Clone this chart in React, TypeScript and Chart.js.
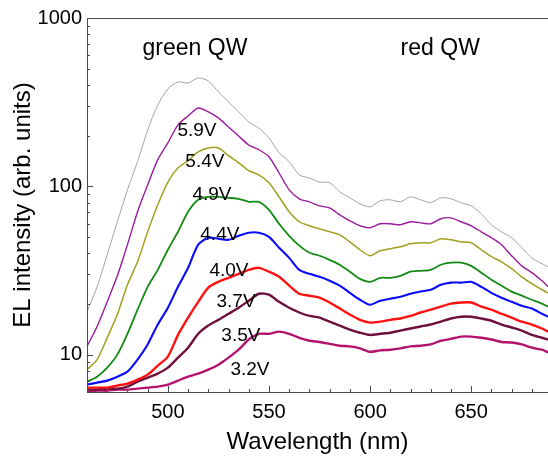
import React, { useEffect, useRef } from "react";
import { Chart, registerables } from "chart.js";
Chart.register(...registerables);

const FONT = "Arial, 'Liberation Sans', sans-serif";

// Wavelength grid (nm)
const wavelengths = [
  460, 465, 470, 475, 480, 485, 490, 495, 500, 505, 510, 515, 520, 525, 530, 535,
  540, 545, 550, 555, 560, 565, 570, 575, 580, 585, 590, 595, 600, 605, 610, 615,
  620, 625, 630, 635, 640, 645, 650, 655, 660, 665, 670, 675, 680, 685, 688,
];

// EL intensity series (arb. units), top to bottom
const seriesTop = [18.0, 25.3, 39.2, 61.6, 95.3, 140, 216, 304, 379, 417, 411, 440, 423, 364, 317, 277, 241, 222, 194, 158, 140, 117, 112, 106, 105, 92.8, 85.5, 78.7, 75.5, 82, 83.2, 80.9, 86.6, 83.2, 80, 85.5, 84.3, 80, 76.6, 68.7, 59.1, 53.7, 49.5, 43.2, 37.6, 34.7, 33.3];
const series59 = [11.2, 14.7, 20.6, 29.4, 45.0, 70.6, 102, 144, 181, 232, 262, 292, 277, 255, 225, 199, 176, 165, 150, 120, 95.3, 84.3, 80.9, 76.6, 74.5, 67.7, 62.4, 58.3, 56.7, 59.9, 59.9, 59.1, 61.6, 60.7, 59.9, 64.2, 65.0, 61.6, 58.3, 53.7, 49.5, 45.0, 38.7, 33.7, 30.7, 27.5, 25.3];
const series54 = [8.15, 9.34, 12.6, 17.3, 26.0, 35.6, 53.7, 77.7, 106, 129, 142, 160, 169, 169, 152, 138, 124, 117, 105, 86.6, 70.6, 61.6, 58.3, 55.9, 53.7, 51.5, 46.8, 42.0, 38.7, 41.4, 42.6, 43.7, 45.6, 46.2, 46.2, 48.8, 48.1, 46.8, 46.2, 42.0, 38.2, 35.6, 32.4, 29.0, 26.4, 24.3, 23.3];
const series49 = [6.91, 7.40, 8.37, 10, 13.3, 18.5, 25.3, 31.9, 42.0, 53.7, 70.6, 83.2, 86.6, 86.6, 85.5, 84.3, 80.9, 80.9, 72.5, 59.9, 50.8, 44.4, 40.3, 38.7, 36.6, 34.2, 31.1, 28.2, 27.1, 28.6, 28.6, 29.4, 31.1, 31.5, 31.9, 34.2, 35.2, 35.2, 33.7, 30.7, 27.9, 25.7, 23.7, 22.4, 21.2, 20.1, 19.3];
const series44 = [6.64, 6.82, 7.01, 7.40, 7.93, 9.34, 11.5, 15.1, 19.0, 25.3, 32.8, 45.0, 49.5, 48.8, 48.1, 50.8, 53.0, 53.0, 50.1, 43.2, 37.6, 31.9, 30.2, 29.0, 27.5, 25.7, 23.3, 21.2, 19.8, 20.9, 21.5, 22.1, 23.0, 23.7, 24.3, 26.0, 26.8, 26.8, 27.1, 25.3, 23.3, 21.8, 20.6, 19.5, 18.8, 17.5, 16.8];
const series40 = [6.37, 6.37, 6.37, 6.55, 6.73, 7.11, 7.61, 8.61, 9.73, 13.1, 16.6, 20.6, 25.0, 27.1, 28.6, 30.2, 31.9, 32.8, 31.1, 29.0, 25.7, 23.0, 22.4, 21.8, 20.4, 18.8, 17.3, 16.1, 15.5, 15.7, 16.1, 16.4, 17.0, 17.8, 18.5, 19.3, 20.1, 20.4, 20.4, 19.3, 18.5, 17.5, 16.6, 15.7, 15.1, 14.3, 13.7];
const series37 = [6.20, 6.20, 6.28, 6.28, 6.46, 6.91, 7.30, 7.72, 8.37, 9.60, 11.0, 13.3, 14.9, 16.1, 17.5, 19.0, 20.9, 23.0, 22.7, 20.6, 19.0, 17.8, 17.0, 16.6, 15.7, 14.9, 14.1, 13.5, 13.1, 13.3, 13.5, 13.9, 14.3, 14.7, 15.1, 15.7, 16.4, 16.8, 16.8, 16.4, 15.9, 15.1, 14.5, 13.9, 13.1, 12.6, 12.3];
const series35 = [6.03, 6.11, 6.11, 6.20, 6.20, 6.28, 6.37, 6.46, 6.64, 7.01, 7.40, 7.72, 8.15, 8.72, 9.60, 10.7, 12.3, 13.3, 13.3, 13.7, 13.3, 12.6, 12.1, 11.9, 11.6, 11.3, 11.2, 10.9, 10.4, 10.6, 10.7, 10.9, 11.2, 11.3, 11.5, 12.1, 12.4, 12.8, 12.8, 12.6, 12.3, 11.9, 11.8, 11.5, 11.0, 10.7, 10.3];

const allSeries = [seriesTop, series59, series54, series49, series44, series40, series37, series35];
const seriesColors = ["#a3a3a3", "#9a1c9e", "#a0a020", "#138a13", "#0a0aff", "#ff1010", "#6e0f3c", "#b3136d"];
const seriesWidths = [1, 1.4, 1.5, 1.8, 2.1, 2.4, 2.4, 2.4];

// Tick labels
const xMajorTicks = [500, 550, 600, 650];
const yMajorTicks = [10, 100, 1000];

// Annotations (text, wavelength, intensity)
const voltageLabels = ["5.9V", "5.4V", "4.9V", "4.4V", "4.0V", "3.7V", "3.5V", "3.2V"];
const voltageLabelX = [514.4, 518.3, 521.8, 525.7, 530.2, 533.7, 536.1, 540.6];
const voltageLabelY = [213, 140, 89, 51.5, 31.5, 20.6, 13.0, 8.15];
const regionLabels = ["green QW", "red QW"];
const regionLabelX = [513.4, 634.7];
const regionLabelY = [655, 655];

const framePlugin = {
  id: "frameTicks",
  afterDraw(chart: any) {
    const { ctx, chartArea, scales } = chart;
    const { left, top, right, bottom } = chartArea;
    const x = scales.x;
    const y = scales.y;
    ctx.save();
    ctx.strokeStyle = "#4a4a4a";
    ctx.lineWidth = 1;
    ctx.beginPath();
    ctx.moveTo(left, top + 0.5);
    ctx.lineTo(right, top + 0.5);
    ctx.moveTo(left + 0.5, top);
    ctx.lineTo(left + 0.5, bottom + 1);
    ctx.moveTo(left, bottom + 0.5);
    ctx.lineTo(right, bottom + 0.5);
    // x ticks (inward)
    for (let v = x.min; v <= x.max; v += 10) {
      const px = Math.round(x.getPixelForValue(v)) + 0.5;
      const len = v % 50 === 0 ? 6 : 3;
      ctx.moveTo(px, bottom);
      ctx.lineTo(px, bottom - len);
    }
    // y ticks (inward), logarithmic
    for (let d = 1; d <= 1000; d *= 10) {
      for (let m = 1; m <= 9; m++) {
        const v = d * m;
        if (v < y.min || v > y.max) continue;
        const py = Math.round(y.getPixelForValue(v)) + 0.5;
        const len = m === 1 ? 6 : 3;
        ctx.moveTo(left, py);
        ctx.lineTo(left + len, py);
      }
    }
    ctx.stroke();

    ctx.fillStyle = "#000";
    ctx.textAlign = "center";
    ctx.textBaseline = "middle";
    ctx.font = `23px ${FONT}`;
    regionLabels.forEach((t, i) => {
      ctx.fillText(t, x.getPixelForValue(regionLabelX[i]), y.getPixelForValue(regionLabelY[i]));
    });
    ctx.font = `19px ${FONT}`;
    voltageLabels.forEach((t, i) => {
      ctx.fillText(t, x.getPixelForValue(voltageLabelX[i]), y.getPixelForValue(voltageLabelY[i]));
    });
    ctx.restore();
  },
};

export default function App() {
  const ref = useRef<HTMLCanvasElement | null>(null);
  useEffect(() => {
    if (!ref.current) return;
    const datasets = allSeries.map((s, i) => ({
      data: wavelengths.map((w, j) => ({ x: w, y: s[j] })),
      borderColor: seriesColors[i],
      backgroundColor: seriesColors[i],
      borderWidth: seriesWidths[i],
      pointRadius: 0,
      tension: 0.25,
      fill: false,
    }));
    const chart = new Chart(ref.current, {
      type: "line",
      data: { datasets },
      plugins: [framePlugin],
      options: {
        animation: false,
        responsive: false,
        devicePixelRatio: 1,
        layout: { padding: { left: 0, top: 18, right: 0, bottom: 0 } },
        plugins: { legend: { display: false }, tooltip: { enabled: false } },
        scales: {
          x: {
            type: "linear",
            min: 460,
            max: 688,
            afterBuildTicks: (s: any) => {
              s.ticks = xMajorTicks.map((v) => ({ value: v }));
            },
            afterFit: (s: any) => {
              s.height = 65;
            },
            grid: { display: false, drawTicks: false },
            border: { display: false },
            ticks: {
              padding: 8,
              color: "#000",
              font: { family: FONT, size: 20 },
              maxRotation: 0,
              autoSkip: false,
              callback: (v: any) => String(v),
            },
            title: {
              display: true,
              text: "Wavelength (nm)",
              color: "#000",
              font: { family: FONT, size: 24 },
              padding: { top: 0, bottom: 0 },
            },
          },
          y: {
            type: "logarithmic",
            min: 6,
            max: 1000,
            afterBuildTicks: (s: any) => {
              s.ticks = yMajorTicks.map((v) => ({ value: v }));
            },
            afterFit: (s: any) => {
              s.width = 87;
            },
            grid: { display: false, drawTicks: false },
            border: { display: false },
            ticks: {
              padding: 5,
              color: "#000",
              font: { family: FONT, size: 20 },
              autoSkip: false,
              callback: (v: any) => String(v),
            },
            title: {
              display: true,
              text: "EL intensity (arb. units)",
              color: "#000",
              font: { family: FONT, size: 24 },
              padding: { top: 9, bottom: 0 },
            },
          },
        },
      },
    } as any);
    return () => chart.destroy();
  }, []);
  return (
    <div style={{ position: "absolute", left: 0, top: 0, width: 548, height: 457, background: "#fff" }}>
      <canvas ref={ref} width={548} height={457} style={{ display: "block" }} />
    </div>
  );
}
